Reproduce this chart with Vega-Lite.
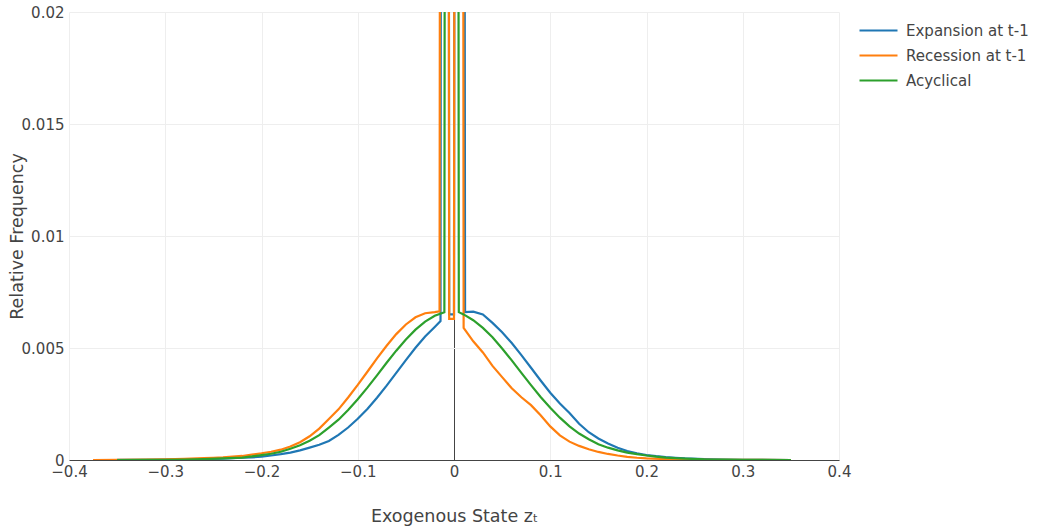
{
  "$schema": "https://vega.github.io/schema/vega-lite/v6.json",
  "width": 770,
  "height": 448,
  "autosize": {"type": "none"},
  "padding": {"left": 69, "top": 12, "right": 200, "bottom": 67},
  "background": "white",
  "config": {
    "font": "DejaVu Sans",
    "view": {"stroke": null},
    "axis": {"gridWidth": 1}
  },
  "data": {
    "values": [
      {"s": "Expansion at t-1", "x": -0.35, "y": 0.00001},
      {"s": "Expansion at t-1", "x": -0.32, "y": 0.00001},
      {"s": "Expansion at t-1", "x": -0.30, "y": 0.00002},
      {"s": "Expansion at t-1", "x": -0.28, "y": 0.00003},
      {"s": "Expansion at t-1", "x": -0.26, "y": 0.00004},
      {"s": "Expansion at t-1", "x": -0.24, "y": 0.00006},
      {"s": "Expansion at t-1", "x": -0.22, "y": 0.0001},
      {"s": "Expansion at t-1", "x": -0.21, "y": 0.00012},
      {"s": "Expansion at t-1", "x": -0.20, "y": 0.00015},
      {"s": "Expansion at t-1", "x": -0.19, "y": 0.0002},
      {"s": "Expansion at t-1", "x": -0.18, "y": 0.00026},
      {"s": "Expansion at t-1", "x": -0.17, "y": 0.00033},
      {"s": "Expansion at t-1", "x": -0.16, "y": 0.00043},
      {"s": "Expansion at t-1", "x": -0.15, "y": 0.00055},
      {"s": "Expansion at t-1", "x": -0.14, "y": 0.00068},
      {"s": "Expansion at t-1", "x": -0.13, "y": 0.00085},
      {"s": "Expansion at t-1", "x": -0.12, "y": 0.00112},
      {"s": "Expansion at t-1", "x": -0.11, "y": 0.00145},
      {"s": "Expansion at t-1", "x": -0.10, "y": 0.00184},
      {"s": "Expansion at t-1", "x": -0.09, "y": 0.00228},
      {"s": "Expansion at t-1", "x": -0.08, "y": 0.00278},
      {"s": "Expansion at t-1", "x": -0.07, "y": 0.00332},
      {"s": "Expansion at t-1", "x": -0.06, "y": 0.00389},
      {"s": "Expansion at t-1", "x": -0.05, "y": 0.00446},
      {"s": "Expansion at t-1", "x": -0.04, "y": 0.00501},
      {"s": "Expansion at t-1", "x": -0.03, "y": 0.00551},
      {"s": "Expansion at t-1", "x": -0.02, "y": 0.00594},
      {"s": "Expansion at t-1", "x": -0.014, "y": 0.0062},
      {"s": "Expansion at t-1", "x": -0.0095, "y": 0.25},
      {"s": "Expansion at t-1", "x": -0.005, "y": 0.0065},
      {"s": "Expansion at t-1", "x": 0.0, "y": 0.0065},
      {"s": "Expansion at t-1", "x": 0.0055, "y": 0.25},
      {"s": "Expansion at t-1", "x": 0.0115, "y": 0.0066},
      {"s": "Expansion at t-1", "x": 0.02, "y": 0.00662},
      {"s": "Expansion at t-1", "x": 0.03, "y": 0.0065},
      {"s": "Expansion at t-1", "x": 0.04, "y": 0.00612},
      {"s": "Expansion at t-1", "x": 0.05, "y": 0.0057},
      {"s": "Expansion at t-1", "x": 0.06, "y": 0.00522},
      {"s": "Expansion at t-1", "x": 0.07, "y": 0.00468},
      {"s": "Expansion at t-1", "x": 0.08, "y": 0.00412},
      {"s": "Expansion at t-1", "x": 0.09, "y": 0.00355},
      {"s": "Expansion at t-1", "x": 0.10, "y": 0.003},
      {"s": "Expansion at t-1", "x": 0.11, "y": 0.00252},
      {"s": "Expansion at t-1", "x": 0.12, "y": 0.0021},
      {"s": "Expansion at t-1", "x": 0.13, "y": 0.00162},
      {"s": "Expansion at t-1", "x": 0.14, "y": 0.00124},
      {"s": "Expansion at t-1", "x": 0.15, "y": 0.00096},
      {"s": "Expansion at t-1", "x": 0.16, "y": 0.00074},
      {"s": "Expansion at t-1", "x": 0.17, "y": 0.00055},
      {"s": "Expansion at t-1", "x": 0.18, "y": 0.0004},
      {"s": "Expansion at t-1", "x": 0.19, "y": 0.0003},
      {"s": "Expansion at t-1", "x": 0.20, "y": 0.00022},
      {"s": "Expansion at t-1", "x": 0.21, "y": 0.00017},
      {"s": "Expansion at t-1", "x": 0.22, "y": 0.00013},
      {"s": "Expansion at t-1", "x": 0.23, "y": 0.0001},
      {"s": "Expansion at t-1", "x": 0.24, "y": 0.00007},
      {"s": "Expansion at t-1", "x": 0.26, "y": 0.00004},
      {"s": "Expansion at t-1", "x": 0.28, "y": 0.00002},
      {"s": "Expansion at t-1", "x": 0.30, "y": 0.00001},
      {"s": "Expansion at t-1", "x": 0.35, "y": 0},

      {"s": "Recession at t-1", "x": -0.375, "y": 0},
      {"s": "Recession at t-1", "x": -0.35, "y": 0.00001},
      {"s": "Recession at t-1", "x": -0.32, "y": 0.00002},
      {"s": "Recession at t-1", "x": -0.30, "y": 0.00003},
      {"s": "Recession at t-1", "x": -0.28, "y": 0.00005},
      {"s": "Recession at t-1", "x": -0.26, "y": 0.00008},
      {"s": "Recession at t-1", "x": -0.25, "y": 0.0001},
      {"s": "Recession at t-1", "x": -0.24, "y": 0.00012},
      {"s": "Recession at t-1", "x": -0.23, "y": 0.00015},
      {"s": "Recession at t-1", "x": -0.22, "y": 0.00018},
      {"s": "Recession at t-1", "x": -0.21, "y": 0.00024},
      {"s": "Recession at t-1", "x": -0.20, "y": 0.0003},
      {"s": "Recession at t-1", "x": -0.19, "y": 0.00037},
      {"s": "Recession at t-1", "x": -0.18, "y": 0.00046},
      {"s": "Recession at t-1", "x": -0.17, "y": 0.0006},
      {"s": "Recession at t-1", "x": -0.16, "y": 0.00079},
      {"s": "Recession at t-1", "x": -0.15, "y": 0.00106},
      {"s": "Recession at t-1", "x": -0.14, "y": 0.0014},
      {"s": "Recession at t-1", "x": -0.13, "y": 0.00183},
      {"s": "Recession at t-1", "x": -0.12, "y": 0.00226},
      {"s": "Recession at t-1", "x": -0.11, "y": 0.00279},
      {"s": "Recession at t-1", "x": -0.10, "y": 0.00335},
      {"s": "Recession at t-1", "x": -0.09, "y": 0.00394},
      {"s": "Recession at t-1", "x": -0.08, "y": 0.00454},
      {"s": "Recession at t-1", "x": -0.07, "y": 0.0051},
      {"s": "Recession at t-1", "x": -0.06, "y": 0.00562},
      {"s": "Recession at t-1", "x": -0.05, "y": 0.00605},
      {"s": "Recession at t-1", "x": -0.04, "y": 0.00637},
      {"s": "Recession at t-1", "x": -0.03, "y": 0.00655},
      {"s": "Recession at t-1", "x": -0.02, "y": 0.0066},
      {"s": "Recession at t-1", "x": -0.015, "y": 0.00664},
      {"s": "Recession at t-1", "x": -0.01, "y": 0.25},
      {"s": "Recession at t-1", "x": -0.005, "y": 0.0063},
      {"s": "Recession at t-1", "x": 0.0, "y": 0.0063},
      {"s": "Recession at t-1", "x": 0.005, "y": 0.25},
      {"s": "Recession at t-1", "x": 0.01, "y": 0.0059},
      {"s": "Recession at t-1", "x": 0.02, "y": 0.0053},
      {"s": "Recession at t-1", "x": 0.03, "y": 0.0048},
      {"s": "Recession at t-1", "x": 0.04, "y": 0.0042},
      {"s": "Recession at t-1", "x": 0.05, "y": 0.0037},
      {"s": "Recession at t-1", "x": 0.06, "y": 0.0032},
      {"s": "Recession at t-1", "x": 0.07, "y": 0.0028},
      {"s": "Recession at t-1", "x": 0.08, "y": 0.00245},
      {"s": "Recession at t-1", "x": 0.09, "y": 0.002},
      {"s": "Recession at t-1", "x": 0.10, "y": 0.0015},
      {"s": "Recession at t-1", "x": 0.11, "y": 0.0011},
      {"s": "Recession at t-1", "x": 0.12, "y": 0.00082},
      {"s": "Recession at t-1", "x": 0.13, "y": 0.00063},
      {"s": "Recession at t-1", "x": 0.14, "y": 0.00048},
      {"s": "Recession at t-1", "x": 0.15, "y": 0.00036},
      {"s": "Recession at t-1", "x": 0.16, "y": 0.00027},
      {"s": "Recession at t-1", "x": 0.17, "y": 0.0002},
      {"s": "Recession at t-1", "x": 0.18, "y": 0.00014},
      {"s": "Recession at t-1", "x": 0.19, "y": 0.0001},
      {"s": "Recession at t-1", "x": 0.20, "y": 0.00007},
      {"s": "Recession at t-1", "x": 0.22, "y": 0.00004},
      {"s": "Recession at t-1", "x": 0.24, "y": 0.00002},
      {"s": "Recession at t-1", "x": 0.27, "y": 0.00001},
      {"s": "Recession at t-1", "x": 0.35, "y": 0},

      {"s": "Acyclical", "x": -0.35, "y": 0},
      {"s": "Acyclical", "x": -0.32, "y": 0.00001},
      {"s": "Acyclical", "x": -0.30, "y": 0.00001},
      {"s": "Acyclical", "x": -0.28, "y": 0.00002},
      {"s": "Acyclical", "x": -0.26, "y": 0.00004},
      {"s": "Acyclical", "x": -0.24, "y": 0.00007},
      {"s": "Acyclical", "x": -0.22, "y": 0.00011},
      {"s": "Acyclical", "x": -0.21, "y": 0.00016},
      {"s": "Acyclical", "x": -0.20, "y": 0.00022},
      {"s": "Acyclical", "x": -0.19, "y": 0.00028},
      {"s": "Acyclical", "x": -0.18, "y": 0.00037},
      {"s": "Acyclical", "x": -0.17, "y": 0.0005},
      {"s": "Acyclical", "x": -0.16, "y": 0.00066},
      {"s": "Acyclical", "x": -0.15, "y": 0.00086},
      {"s": "Acyclical", "x": -0.14, "y": 0.00111},
      {"s": "Acyclical", "x": -0.13, "y": 0.00145},
      {"s": "Acyclical", "x": -0.12, "y": 0.0018},
      {"s": "Acyclical", "x": -0.11, "y": 0.00223},
      {"s": "Acyclical", "x": -0.10, "y": 0.00271},
      {"s": "Acyclical", "x": -0.09, "y": 0.00323},
      {"s": "Acyclical", "x": -0.08, "y": 0.00378},
      {"s": "Acyclical", "x": -0.07, "y": 0.00434},
      {"s": "Acyclical", "x": -0.06, "y": 0.00488},
      {"s": "Acyclical", "x": -0.05, "y": 0.00538},
      {"s": "Acyclical", "x": -0.04, "y": 0.00582},
      {"s": "Acyclical", "x": -0.03, "y": 0.00618},
      {"s": "Acyclical", "x": -0.02, "y": 0.00644},
      {"s": "Acyclical", "x": -0.01, "y": 0.0066},
      {"s": "Acyclical", "x": -0.005, "y": 0.25},
      {"s": "Acyclical", "x": 0.0, "y": 0.25},
      {"s": "Acyclical", "x": 0.005, "y": 0.0066},
      {"s": "Acyclical", "x": 0.01, "y": 0.0065},
      {"s": "Acyclical", "x": 0.02, "y": 0.00624},
      {"s": "Acyclical", "x": 0.03, "y": 0.0059},
      {"s": "Acyclical", "x": 0.04, "y": 0.00548},
      {"s": "Acyclical", "x": 0.05, "y": 0.00498},
      {"s": "Acyclical", "x": 0.06, "y": 0.00445},
      {"s": "Acyclical", "x": 0.07, "y": 0.00389},
      {"s": "Acyclical", "x": 0.08, "y": 0.00334},
      {"s": "Acyclical", "x": 0.09, "y": 0.00281},
      {"s": "Acyclical", "x": 0.10, "y": 0.00233},
      {"s": "Acyclical", "x": 0.11, "y": 0.00189},
      {"s": "Acyclical", "x": 0.12, "y": 0.0015},
      {"s": "Acyclical", "x": 0.13, "y": 0.00118},
      {"s": "Acyclical", "x": 0.14, "y": 0.00093},
      {"s": "Acyclical", "x": 0.15, "y": 0.0007},
      {"s": "Acyclical", "x": 0.16, "y": 0.00055},
      {"s": "Acyclical", "x": 0.17, "y": 0.00043},
      {"s": "Acyclical", "x": 0.18, "y": 0.00033},
      {"s": "Acyclical", "x": 0.19, "y": 0.00026},
      {"s": "Acyclical", "x": 0.20, "y": 0.0002},
      {"s": "Acyclical", "x": 0.21, "y": 0.00015},
      {"s": "Acyclical", "x": 0.22, "y": 0.00011},
      {"s": "Acyclical", "x": 0.23, "y": 0.00008},
      {"s": "Acyclical", "x": 0.24, "y": 0.00006},
      {"s": "Acyclical", "x": 0.26, "y": 0.00003},
      {"s": "Acyclical", "x": 0.28, "y": 0.00002},
      {"s": "Acyclical", "x": 0.30, "y": 0.00001},
      {"s": "Acyclical", "x": 0.35, "y": 0}
    ]
  },
  "mark": {"type": "line", "clip": true, "strokeWidth": 2.2},
  "encoding": {
    "x": {
      "field": "x",
      "type": "quantitative",
      "scale": {"domain": [-0.4, 0.4], "nice": false, "zero": false},
      "axis": {
        "values": [-0.4, -0.3, -0.2, -0.1, 0, 0.1, 0.2, 0.3, 0.4],
        "format": "~g",
        "domain": false,
        "ticks": false,
        "labelFlush": false,
        "labelOverlap": false,
        "labelFontSize": 15,
        "labelColor": "#444",
        "labelPadding": 4,
        "gridColor": {"condition": {"test": "datum.value === 0", "value": "#444"}, "value": "#eeeeee"},
        "title": "Exogenous State zₜ",
        "titleFontSize": 17.5,
        "titleFontWeight": "normal",
        "titleColor": "#444",
        "titleX": 385,
        "titleY": 56,
        "titleBaseline": "middle"
      }
    },
    "y": {
      "field": "y",
      "type": "quantitative",
      "scale": {"domain": [0, 0.02], "nice": false},
      "axis": {
        "values": [0, 0.005, 0.01, 0.015, 0.02],
        "format": "~g",
        "domain": false,
        "ticks": false,
        "labelFlush": false,
        "labelOverlap": false,
        "labelFontSize": 15,
        "labelColor": "#444",
        "labelPadding": 5,
        "gridColor": {"condition": {"test": "datum.value === 0", "value": "#444"}, "value": "#eeeeee"},
        "title": "Relative Frequency",
        "titleFontSize": 17.5,
        "titleFontWeight": "normal",
        "titleColor": "#444",
        "titleX": -52,
        "titleY": 224,
        "titleAngle": 270,
        "titleBaseline": "middle"
      }
    },
    "color": {
      "field": "s",
      "type": "nominal",
      "scale": {
        "domain": ["Expansion at t-1", "Recession at t-1", "Acyclical"],
        "range": ["#1f77b4", "#ff7f0e", "#2ca02c"]
      },
      "legend": {
        "orient": "none",
        "legendX": 789,
        "legendY": 6,
        "title": null,
        "padding": 0,
        "symbolType": "stroke",
        "symbolSize": 1444,
        "symbolStrokeWidth": 2.2,
        "labelFontSize": 15,
        "labelColor": "#444",
        "labelOffset": 7,
        "rowPadding": 0,
        "clipHeight": 25
      }
    }
  }
}
